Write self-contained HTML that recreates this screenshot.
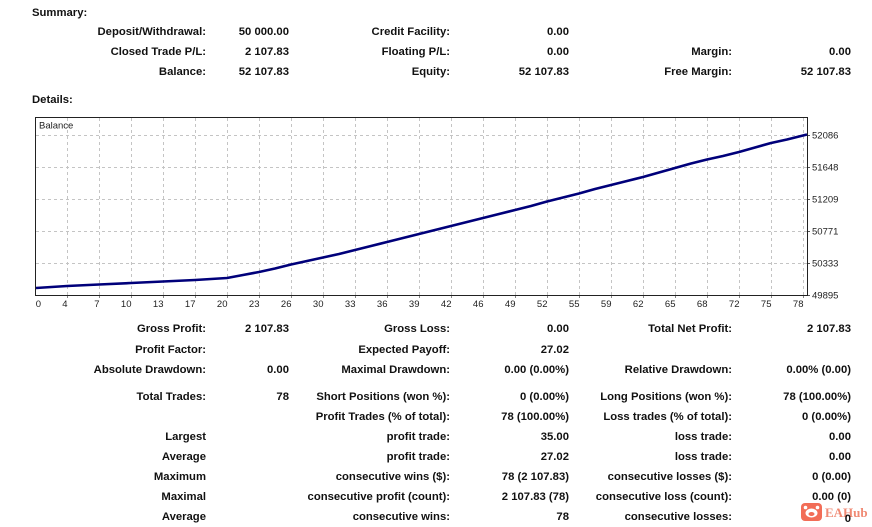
<!DOCTYPE html>
<html>
<head>
<meta charset="utf-8">
<style>
  html, body { margin:0; padding:0; background:#fff; }
  body { width:872px; height:527px; position:relative; overflow:hidden;
         font-family:"Liberation Sans", Arial, sans-serif; color:#111; }
  .t { position:absolute; font-weight:bold; font-size:11.3px; line-height:14px; height:14px; white-space:nowrap; }
  .r { text-align:right; }
  .l { text-align:left; }
  svg { position:absolute; left:0; top:0; }
</style>
</head>
<body>

<div class="t l" style="left:32px;top:6px;">Summary:</div>
<div class="t l" style="left:32px;top:93px;">Details:</div>

<!-- Summary row 1 -->
<div class="t r" style="right:666px;top:25px;">Deposit/Withdrawal:</div>
<div class="t r" style="right:583px;top:25px;">50 000.00</div>
<div class="t r" style="right:422px;top:25px;">Credit Facility:</div>
<div class="t r" style="right:303px;top:25px;">0.00</div>
<!-- Summary row 2 -->
<div class="t r" style="right:666px;top:45px;">Closed Trade P/L:</div>
<div class="t r" style="right:583px;top:45px;">2 107.83</div>
<div class="t r" style="right:422px;top:45px;">Floating P/L:</div>
<div class="t r" style="right:303px;top:45px;">0.00</div>
<div class="t r" style="right:140px;top:45px;">Margin:</div>
<div class="t r" style="right:21px;top:45px;">0.00</div>
<!-- Summary row 3 -->
<div class="t r" style="right:666px;top:65px;">Balance:</div>
<div class="t r" style="right:583px;top:65px;">52 107.83</div>
<div class="t r" style="right:422px;top:65px;">Equity:</div>
<div class="t r" style="right:303px;top:65px;">52 107.83</div>
<div class="t r" style="right:140px;top:65px;">Free Margin:</div>
<div class="t r" style="right:21px;top:65px;">52 107.83</div>

<!-- Details rows -->
<div class="t r" style="right:666px;top:322px;">Gross Profit:</div>
<div class="t r" style="right:583px;top:322px;">2 107.83</div>
<div class="t r" style="right:422px;top:322px;">Gross Loss:</div>
<div class="t r" style="right:303px;top:322px;">0.00</div>
<div class="t r" style="right:140px;top:322px;">Total Net Profit:</div>
<div class="t r" style="right:21px;top:322px;">2 107.83</div>

<div class="t r" style="right:666px;top:343px;">Profit Factor:</div>
<div class="t r" style="right:422px;top:343px;">Expected Payoff:</div>
<div class="t r" style="right:303px;top:343px;">27.02</div>

<div class="t r" style="right:666px;top:363px;">Absolute Drawdown:</div>
<div class="t r" style="right:583px;top:363px;">0.00</div>
<div class="t r" style="right:422px;top:363px;">Maximal Drawdown:</div>
<div class="t r" style="right:303px;top:363px;">0.00 (0.00%)</div>
<div class="t r" style="right:140px;top:363px;">Relative Drawdown:</div>
<div class="t r" style="right:21px;top:363px;">0.00% (0.00)</div>

<div class="t r" style="right:666px;top:390px;">Total Trades:</div>
<div class="t r" style="right:583px;top:390px;">78</div>
<div class="t r" style="right:422px;top:390px;">Short Positions (won %):</div>
<div class="t r" style="right:303px;top:390px;">0 (0.00%)</div>
<div class="t r" style="right:140px;top:390px;">Long Positions (won %):</div>
<div class="t r" style="right:21px;top:390px;">78 (100.00%)</div>

<div class="t r" style="right:422px;top:410px;">Profit Trades (% of total):</div>
<div class="t r" style="right:303px;top:410px;">78 (100.00%)</div>
<div class="t r" style="right:140px;top:410px;">Loss trades (% of total):</div>
<div class="t r" style="right:21px;top:410px;">0 (0.00%)</div>

<div class="t r" style="right:666px;top:430px;">Largest</div>
<div class="t r" style="right:422px;top:430px;">profit trade:</div>
<div class="t r" style="right:303px;top:430px;">35.00</div>
<div class="t r" style="right:140px;top:430px;">loss trade:</div>
<div class="t r" style="right:21px;top:430px;">0.00</div>

<div class="t r" style="right:666px;top:450px;">Average</div>
<div class="t r" style="right:422px;top:450px;">profit trade:</div>
<div class="t r" style="right:303px;top:450px;">27.02</div>
<div class="t r" style="right:140px;top:450px;">loss trade:</div>
<div class="t r" style="right:21px;top:450px;">0.00</div>

<div class="t r" style="right:666px;top:470px;">Maximum</div>
<div class="t r" style="right:422px;top:470px;">consecutive wins ($):</div>
<div class="t r" style="right:303px;top:470px;">78 (2 107.83)</div>
<div class="t r" style="right:140px;top:470px;">consecutive losses ($):</div>
<div class="t r" style="right:21px;top:470px;">0 (0.00)</div>

<div class="t r" style="right:666px;top:490px;">Maximal</div>
<div class="t r" style="right:422px;top:490px;">consecutive profit (count):</div>
<div class="t r" style="right:303px;top:490px;">2 107.83 (78)</div>
<div class="t r" style="right:140px;top:490px;">consecutive loss (count):</div>
<div class="t r" style="right:21px;top:490px;">0.00 (0)</div>

<div class="t r" style="right:666px;top:510px;">Average</div>
<div class="t r" style="right:422px;top:510px;">consecutive wins:</div>
<div class="t r" style="right:303px;top:510px;">78</div>
<div class="t r" style="right:140px;top:510px;">consecutive losses:</div>

<svg width="872" height="527" viewBox="0 0 872 527" xmlns="http://www.w3.org/2000/svg">
  <!-- grid -->
  <g stroke="#c4c4c4" stroke-width="1" stroke-dasharray="3,3" fill="none">
    <line x1="36" y1="135.5" x2="807" y2="135.5"/>
    <line x1="36" y1="167.5" x2="807" y2="167.5"/>
    <line x1="36" y1="199.5" x2="807" y2="199.5"/>
    <line x1="36" y1="231.5" x2="807" y2="231.5"/>
    <line x1="36" y1="263.5" x2="807" y2="263.5"/>
    <line x1="67.5" y1="118" x2="67.5" y2="295"/>
    <line x1="99.5" y1="118" x2="99.5" y2="295"/>
    <line x1="131.5" y1="118" x2="131.5" y2="295"/>
    <line x1="163.5" y1="118" x2="163.5" y2="295"/>
    <line x1="195.5" y1="118" x2="195.5" y2="295"/>
    <line x1="227.5" y1="118" x2="227.5" y2="295"/>
    <line x1="259.5" y1="118" x2="259.5" y2="295"/>
    <line x1="291.5" y1="118" x2="291.5" y2="295"/>
    <line x1="323.5" y1="118" x2="323.5" y2="295"/>
    <line x1="355.5" y1="118" x2="355.5" y2="295"/>
    <line x1="387.5" y1="118" x2="387.5" y2="295"/>
    <line x1="419.5" y1="118" x2="419.5" y2="295"/>
    <line x1="451.5" y1="118" x2="451.5" y2="295"/>
    <line x1="483.5" y1="118" x2="483.5" y2="295"/>
    <line x1="515.5" y1="118" x2="515.5" y2="295"/>
    <line x1="547.5" y1="118" x2="547.5" y2="295"/>
    <line x1="579.5" y1="118" x2="579.5" y2="295"/>
    <line x1="611.5" y1="118" x2="611.5" y2="295"/>
    <line x1="643.5" y1="118" x2="643.5" y2="295"/>
    <line x1="675.5" y1="118" x2="675.5" y2="295"/>
    <line x1="707.5" y1="118" x2="707.5" y2="295"/>
    <line x1="739.5" y1="118" x2="739.5" y2="295"/>
    <line x1="771.5" y1="118" x2="771.5" y2="295"/>
    <line x1="803.5" y1="118" x2="803.5" y2="295"/>
  </g>
  <!-- ticks -->
  <g stroke="#555" stroke-width="1">
    <line x1="807" y1="135.5" x2="810" y2="135.5"/>
    <line x1="807" y1="167.5" x2="810" y2="167.5"/>
    <line x1="807" y1="199.5" x2="810" y2="199.5"/>
    <line x1="807" y1="231.5" x2="810" y2="231.5"/>
    <line x1="807" y1="263.5" x2="810" y2="263.5"/>
    <line x1="807" y1="295.5" x2="810" y2="295.5"/>
  </g>
  <g stroke="#888" stroke-width="1">
    <line x1="67.5" y1="296" x2="67.5" y2="298"/>
    <line x1="99.5" y1="296" x2="99.5" y2="298"/>
    <line x1="131.5" y1="296" x2="131.5" y2="298"/>
    <line x1="163.5" y1="296" x2="163.5" y2="298"/>
    <line x1="195.5" y1="296" x2="195.5" y2="298"/>
    <line x1="227.5" y1="296" x2="227.5" y2="298"/>
    <line x1="259.5" y1="296" x2="259.5" y2="298"/>
    <line x1="291.5" y1="296" x2="291.5" y2="298"/>
    <line x1="323.5" y1="296" x2="323.5" y2="298"/>
    <line x1="355.5" y1="296" x2="355.5" y2="298"/>
    <line x1="387.5" y1="296" x2="387.5" y2="298"/>
    <line x1="419.5" y1="296" x2="419.5" y2="298"/>
    <line x1="451.5" y1="296" x2="451.5" y2="298"/>
    <line x1="483.5" y1="296" x2="483.5" y2="298"/>
    <line x1="515.5" y1="296" x2="515.5" y2="298"/>
    <line x1="547.5" y1="296" x2="547.5" y2="298"/>
    <line x1="579.5" y1="296" x2="579.5" y2="298"/>
    <line x1="611.5" y1="296" x2="611.5" y2="298"/>
    <line x1="643.5" y1="296" x2="643.5" y2="298"/>
    <line x1="675.5" y1="296" x2="675.5" y2="298"/>
    <line x1="707.5" y1="296" x2="707.5" y2="298"/>
    <line x1="739.5" y1="296" x2="739.5" y2="298"/>
    <line x1="771.5" y1="296" x2="771.5" y2="298"/>
    <line x1="803.5" y1="296" x2="803.5" y2="298"/>
  </g>
  <!-- border -->
  <rect x="35.5" y="117.5" width="772" height="178" fill="none" stroke="#222" stroke-width="1"/>
  <!-- balance line -->
  <polyline fill="none" stroke="#00007a" stroke-width="2.6" stroke-linejoin="round"
    points="36,288 67,286 99,284.5 131,283 163,281.5 195,280 227,278 243,275 259,272 275,268.5 291,264.5 307,261 323,257.5 339,254 355,250 371,246 387,242 403,238 419,234 435,230 451,226 467,222 483,218 499,214 515,210 531,206 547,201.5 563,197.5 579,193.5 595,189 611,185 627,181 643,177 659,172.5 675,168 691,163.5 707,159.5 723,156 739,152 755,147.5 771,143 787,139.5 803,135.5 807,134.5"/>
  <!-- labels -->
  <g font-family="Liberation Sans, Arial, sans-serif" font-size="9.5" fill="#222">
    <text x="39" y="128.5">Balance</text>
    <text x="812" y="138.5">52086</text>
    <text x="812" y="170.5">51648</text>
    <text x="812" y="202.5">51209</text>
    <text x="812" y="234.5">50771</text>
    <text x="812" y="266.5">50333</text>
    <text x="812" y="298.5">49895</text>
  </g>
  <g font-family="Liberation Sans, Arial, sans-serif" font-size="9.5" fill="#222" text-anchor="end">
    <text x="41" y="307">0</text>
    <text x="67.5" y="307">4</text>
    <text x="99.5" y="307">7</text>
    <text x="131.5" y="307">10</text>
    <text x="163.5" y="307">13</text>
    <text x="195.5" y="307">17</text>
    <text x="227.5" y="307">20</text>
    <text x="259.5" y="307">23</text>
    <text x="291.5" y="307">26</text>
    <text x="323.5" y="307">30</text>
    <text x="355.5" y="307">33</text>
    <text x="387.5" y="307">36</text>
    <text x="419.5" y="307">39</text>
    <text x="451.5" y="307">42</text>
    <text x="483.5" y="307">46</text>
    <text x="515.5" y="307">49</text>
    <text x="547.5" y="307">52</text>
    <text x="579.5" y="307">55</text>
    <text x="611.5" y="307">59</text>
    <text x="643.5" y="307">62</text>
    <text x="675.5" y="307">65</text>
    <text x="707.5" y="307">68</text>
    <text x="739.5" y="307">72</text>
    <text x="771.5" y="307">75</text>
    <text x="803.5" y="307">78</text>
  </g>
  <!-- watermark -->
  <rect x="801" y="503" width="21" height="18" rx="4" fill="#f26d57"/>
  <ellipse cx="811.5" cy="513" rx="6" ry="4.5" fill="#fff"/>
  <circle cx="805.5" cy="507.5" r="1.8" fill="#fff"/>
  <circle cx="817.5" cy="507.5" r="1.8" fill="#fff"/>
  <ellipse cx="811.5" cy="514" rx="3" ry="2" fill="#f26d57"/>
  <text x="825" y="517" font-family="Liberation Serif, serif" font-weight="bold" font-size="13" fill="#f08a74">EAHub</text>
  <text x="851" y="522" font-family="Liberation Sans, Arial, sans-serif" font-weight="bold" font-size="11.3" fill="#111" text-anchor="end">0</text>
</svg>

</body>
</html>
